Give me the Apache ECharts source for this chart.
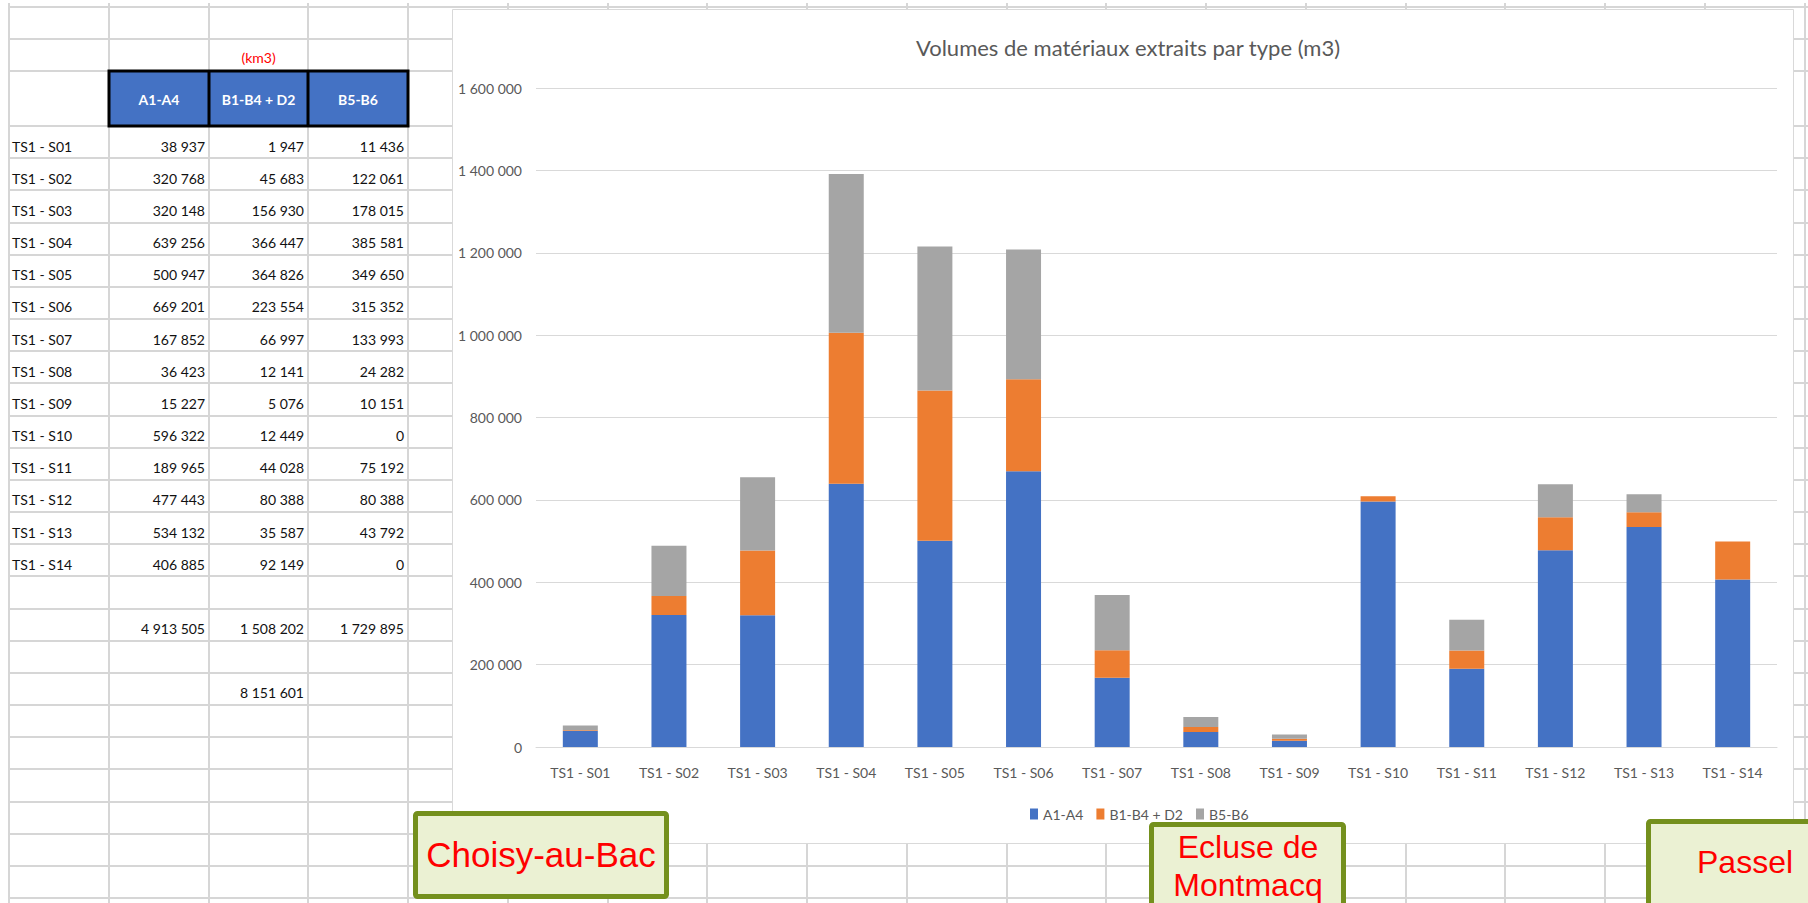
<!DOCTYPE html>
<html>
<head>
<meta charset="utf-8">
<title>Volumes de matériaux extraits par type</title>
<script src="https://cdn.jsdelivr.net/npm/echarts@6/dist/echarts.min.js"></script>
<style>
  html, body { margin: 0; padding: 0; background: #fff; }
  #sheet { width: 1808px; height: 903px; }
</style>
</head>
<body>
<div id="sheet"></div>
<script>
// data read from the sheet
const categories = ['TS1 - S01', 'TS1 - S02', 'TS1 - S03', 'TS1 - S04', 'TS1 - S05', 'TS1 - S06', 'TS1 - S07',
  'TS1 - S08', 'TS1 - S09', 'TS1 - S10', 'TS1 - S11', 'TS1 - S12', 'TS1 - S13', 'TS1 - S14']
const seriesNames = ['A1-A4', 'B1-B4 + D2', 'B5-B6']
const a1a4 = [38937, 320768, 320148, 639256, 500947, 669201, 167852, 36423, 15227, 596322, 189965, 477443, 534132, 406885]
const b1b4d2 = [1947, 45683, 156930, 366447, 364826, 223554, 66997, 12141, 5076, 12449, 44028, 80388, 35587, 92149]
const b5b6 = [11436, 122061, 178015, 385581, 349650, 315352, 133993, 24282, 10151, 0, 75192, 80388, 43792, 0]
const columnTotals = [4913505, 1508202, 1729895]
const grandTotal = [8151601]
const boxLabels = ['Choisy-au-Bac', 'Ecluse de\nMontmacq', 'Passel']

const colors = ['#4472c4', '#ed7d31', '#a5a5a5']
const FONT = 'Lato, "Noto Sans", sans-serif'

const fmt = (v) => String(v).replace(/\B(?=(\d{3})+(?!\d))/g, ' ')

// sheet layout (pixels)
const colStep = 99.75
const colLines = []
for (let x = 9; x < 1810; x += colStep) colLines.push(Math.round(x))
const rowLines = [7, 39, 71]
for (let k = 0; k < 25; k++) rowLines.push(Math.round(126 + k * 32.17))
const rowTop = (k) => 126 + k * 32.17

const els = []
// grid of the spreadsheet
colLines.forEach((x) => {
  els.push({ type: 'line', z: 0, shape: { x1: x, y1: 3, x2: x, y2: 903 }, style: { stroke: '#d6d6d6', lineWidth: 2 } })
})
rowLines.forEach((y) => {
  els.push({ type: 'line', z: 0, shape: { x1: 9, y1: y, x2: 1808, y2: y }, style: { stroke: '#d6d6d6', lineWidth: 2 } })
})

function cellText(text, x, y, align, opts) {
  els.push({
    type: 'text', z: 1, x: x, y: y,
    style: Object.assign({
      text: text, align: align, verticalAlign: 'middle',
      fill: '#111', font: '14px ' + FONT,
    }, opts || {}),
  })
}

// header
els.push({ type: 'rect', z: 1, shape: { x: 109, y: 71, width: 299, height: 55 }, style: { fill: '#4472c4', stroke: '#000', lineWidth: 3 } })
;[209, 308].forEach((x) => {
  els.push({ type: 'line', z: 1, shape: { x1: x, y1: 71, x2: x, y2: 126 }, style: { stroke: '#000', lineWidth: 3 } })
})
const headCenters = [159, 258.5, 358]
seriesNames.forEach((n, i) => cellText(n, headCenters[i], 99, 'center', { fill: '#fff', font: 'bold 14px ' + FONT }))
cellText('(km3)', 258.5, 57, 'center', { fill: '#ff0000' })

// body of the table
const colRight = [205, 304, 404]
categories.forEach((c, k) => {
  const y = rowTop(k) + 20
  cellText(c, 12, y, 'left')
  ;[a1a4, b1b4d2, b5b6].forEach((arr, j) => cellText(fmt(arr[k]), colRight[j], y, 'right'))
})
columnTotals.forEach((v, j) => cellText(fmt(v), colRight[j], rowTop(15) + 20, 'right'))
cellText(fmt(grandTotal[0]), colRight[1], rowTop(17) + 20, 'right')

// chart frame
els.push({ type: 'rect', z: 1, shape: { x: 452.5, y: 9.5, width: 1341, height: 834 }, style: { fill: '#fff', stroke: '#d9d9d9', lineWidth: 1 } })

// green text boxes
const boxes = [
  { x: 413, y: 811, w: 256, h: 88, tx: 541, ty: 854, size: 35 },
  { x: 1149, y: 822, w: 197, h: 100, tx: 1248, ty: 866, size: 32 },
  { x: 1646, y: 819, w: 200, h: 100, tx: 1745, ty: 862, size: 32 },
]
boxes.forEach((b, i) => {
  els.push({ type: 'rect', z: 20, shape: { x: b.x + 2.5, y: b.y + 2.5, width: b.w - 5, height: b.h - 5, r: 2 },
    style: { fill: '#ebf1d3', stroke: '#74901d', lineWidth: 5 } })
  els.push({ type: 'text', z: 21, x: b.tx, y: b.ty,
    style: { text: boxLabels[i], align: 'center', verticalAlign: 'middle', fill: '#ff0000',
      font: b.size + 'px "Liberation Sans", Arial, sans-serif', lineHeight: 38 } })
})

const chart = echarts.init(document.getElementById('sheet'), null, { renderer: 'svg' })
const option = {
  animation: false,
  textStyle: { fontFamily: FONT },
  title: {
    text: 'Volumes de matériaux extraits par type (m3)',
    left: 1123, top: 31, textAlign: 'center', z: 6,
    textStyle: { color: '#595959', fontSize: 22, fontWeight: 'normal', fontFamily: FONT },
  },
  legend: {
    left: 1025, top: 802, z: 6,
    icon: 'rect', itemWidth: 8, itemHeight: 11, itemGap: 13,
    textStyle: { color: '#595959', fontSize: 14, fontFamily: FONT },
    data: seriesNames,
  },
  grid: { left: 536, right: 31, top: 88, bottom: 156 },
  xAxis: {
    type: 'category', data: categories, z: 3,
    axisTick: { show: false },
    axisLine: { lineStyle: { color: '#d9d9d9', width: 1 } },
    axisLabel: { color: '#595959', fontSize: 14, margin: 18, interval: 0, fontFamily: FONT },
  },
  yAxis: {
    type: 'value', min: 0, max: 1600000, interval: 200000, z: 3,
    axisLine: { show: false },
    axisTick: { show: false },
    axisLabel: { color: '#595959', fontSize: 14, margin: 14, formatter: fmt, fontFamily: FONT },
    splitLine: { lineStyle: { color: '#d9d9d9', width: 1 } },
  },
  series: [a1a4, b1b4d2, b5b6].map((d, i) => ({
    name: seriesNames[i], type: 'bar', stack: 'total', barWidth: 35, z: 4,
    itemStyle: { color: colors[i] },
    data: d,
  })),
  graphic: { elements: els },
}
chart.setOption(option)
</script>
</body>
</html>
